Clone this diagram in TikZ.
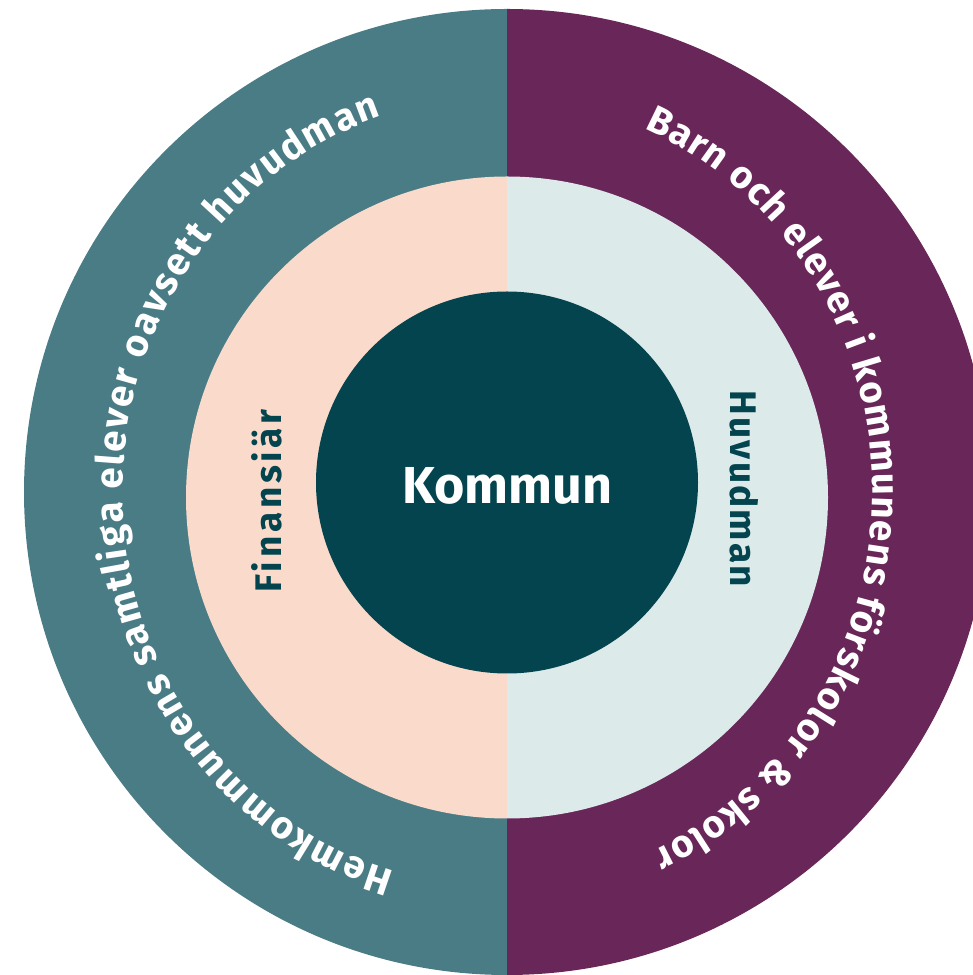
\documentclass[tikz,border=0pt]{standalone}
\usepackage{fontspec}
\setmainfont{Fira Sans}
\usetikzlibrary{decorations.text,calc}
\definecolor{outerL}{HTML}{4A7C86}
\definecolor{outerR}{HTML}{692658}
\definecolor{midL}{HTML}{FADBCB}
\definecolor{midR}{HTML}{DCEAEA}
\definecolor{core}{HTML}{03444E}
\newcommand\ringfmt{\color{white}\bfseries\fontsize{38.5}{44}\selectfont}
\begin{document}
\begin{tikzpicture}[x=1pt,y=1pt,
  ringtext/.style={decorate, decoration={text along path, text align=fit to path, text={|\ringfmt|#1}}},
  innerlabel/.style={font=\bfseries\fontsize{37}{42}\selectfont, text=core, inner sep=0pt}]
\useasboundingbox (0,0) rectangle (973,975);
\clip (0,0) rectangle (973,975);
\coordinate (O) at (507,483);
\coordinate (M) at (507,477.5);
\coordinate (I) at (507,492.5);
\coordinate (T) at (497.5,483);
% outer ring halves
\fill[outerL] ($(O)+(0,483)$) arc[start angle=90,end angle=270,radius=483] -- cycle;
\fill[outerR] ($(O)+(0,483)$) arc[start angle=90,end angle=-90,radius=483] -- cycle;
% middle ring halves
\fill[midL] ($(M)+(0,321)$) arc[start angle=90,end angle=270,radius=321] -- cycle;
\fill[midR] ($(M)+(0,321)$) arc[start angle=90,end angle=-90,radius=321] -- cycle;
% core
\node[circle, fill=core, minimum size=382pt, inner sep=0pt] (core) at (I) {};
\node[font=\bfseries\fontsize{52}{60}\selectfont, text=white, anchor=base, inner sep=0pt] (kommun) at (507.5,471) {Kommun};
% labels in middle ring
\node[innerlabel, rotate=90, anchor=base] (fin) at (281,474) {\addfontfeature{LetterSpace=10}Finansiär};
\node[innerlabel, rotate=-90, anchor=base] (huv) at (730,486) {\addfontfeature{LetterSpace=6}Huvudman};
% outer ring texts
\path[ringtext={Hemkommunens samtliga elever oavsett huvudman}]
  ($(T)+(254:375 and 395)$) arc[start angle=254, end angle=108, x radius=375, y radius=395];
\path[ringtext={Barn och elever i kommunens förskolor {\&} skolor}]
  ($(T)+(67:375 and 395)$) arc[start angle=67, end angle=-65.4, x radius=375, y radius=395];
\end{tikzpicture}
\end{document}
